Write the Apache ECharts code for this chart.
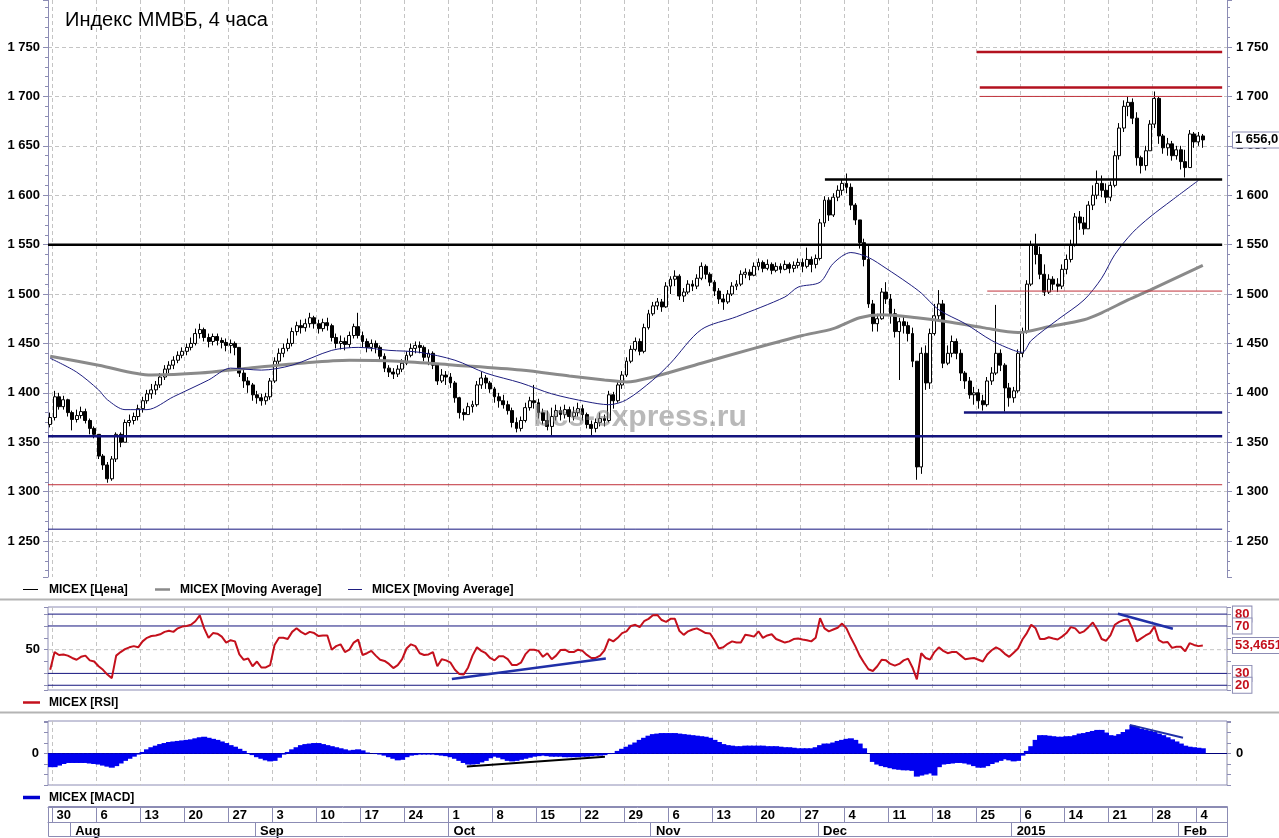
<!DOCTYPE html>
<html><head><meta charset="utf-8">
<script src="https://cdn.jsdelivr.net/npm/echarts@6/dist/echarts.min.js"></script>
<style>html,body{margin:0;padding:0;background:#fff}#c{width:1279px;height:838px}</style>
</head><body><div id="c"></div><script>
// ---------- DATA ----------
const firstOpen = 1368;
const closes = [
1375,1396,1386,1393,1380,1373,1377,1381,1372,1364,
1358,1336,1327,1313,1333,1358,1350,1370,1372,1376,
1384,1392,1399,1403,1408,1416,1424,1428,1433,1438,
1442,1446,1450,1460,1464,1456,1452,1457,1453,1451,
1448,1450,1446,1420,1412,1408,1398,1395,1392,1396,
1412,1432,1440,1445,1450,1462,1468,1466,1470,1476,
1470,1465,1471,1468,1456,1450,1452,1449,1458,1467,
1458,1452,1446,1450,1446,1437,1425,1421,1419,1424,
1430,1438,1445,1448,1446,1436,1440,1428,1412,1418,
1416,1410,1395,1380,1378,1386,1388,1408,1415,1410,
1404,1396,1392,1388,1382,1370,1364,1372,1385,1392,
1390,1380,1372,1366,1376,1382,1378,1383,1376,1380,
1384,1378,1368,1364,1370,1374,1372,1398,1392,1408,
1418,1432,1444,1452,1442,1466,1480,1488,1492,1487,
1508,1515,1518,1498,1502,1510,1508,1516,1528,1520,
1512,1503,1495,1492,1500,1508,1510,1520,1522,1519,
1528,1532,1526,1530,1524,1528,1525,1530,1526,1529,
1532,1528,1535,1530,1536,1572,1595,1580,1598,1605,
1612,1608,1590,1575,1552,1535,1490,1470,1475,1502,
1495,1480,1462,1472,1468,1460,1432,1325,1440,1410,
1460,1478,1490,1430,1440,1452,1440,1420,1412,1398,
1400,1392,1388,1412,1420,1440,1428,1405,1395,1402,
1440,1462,1510,1550,1540,1520,1502,1515,1510,1508,
1525,1535,1550,1578,1572,1566,1590,1600,1612,1605,
1598,1610,1640,1668,1690,1694,1678,1638,1630,1645,
1672,1698,1660,1648,1652,1640,1646,1634,1628,1662,
1654,1660,1656];
const highs = [
1380,1402,1400,1397,1394,1382,1383,1386,1384,1374,
1366,1358,1338,1330,1336,1360,1360,1373,1378,1380,
1388,1396,1403,1409,1412,1420,1428,1432,1437,1442,
1446,1450,1456,1465,1470,1466,1460,1460,1460,1456,
1455,1454,1452,1446,1425,1416,1410,1402,1399,1400,
1415,1436,1445,1450,1455,1466,1472,1474,1475,1481,
1478,1474,1475,1476,1470,1460,1458,1456,1462,1470,
1481,1462,1455,1454,1453,1448,1440,1428,1425,1428,
1434,1442,1450,1452,1452,1448,1444,1442,1430,1424,
1422,1420,1412,1396,1384,1390,1392,1412,1421,1418,
1412,1406,1400,1398,1392,1385,1375,1376,1390,1396,
1408,1394,1384,1382,1385,1388,1386,1388,1386,1386,
1390,1388,1380,1372,1374,1380,1378,1402,1401,1412,
1422,1436,1448,1456,1455,1470,1484,1492,1496,1495,
1512,1518,1524,1520,1506,1514,1514,1520,1532,1530,
1522,1514,1506,1500,1504,1512,1514,1524,1526,1525,
1532,1536,1534,1535,1532,1532,1531,1534,1532,1533,
1536,1536,1547,1538,1540,1576,1599,1598,1602,1610,
1616,1622,1612,1592,1575,1556,1550,1494,1480,1506,
1512,1500,1485,1476,1478,1472,1466,1432,1446,1448,
1465,1490,1504,1494,1448,1458,1455,1444,1422,1416,
1406,1404,1398,1416,1426,1489,1444,1430,1410,1406,
1444,1466,1514,1554,1561,1548,1530,1520,1518,1516,
1530,1540,1555,1582,1584,1578,1594,1610,1625,1620,
1612,1614,1645,1673,1696,1700,1698,1684,1640,1650,
1676,1705,1700,1662,1658,1655,1650,1650,1646,1666,
1664,1664,1662];
const lows = [
1365,1372,1383,1383,1376,1362,1370,1374,1369,1358,
1354,1333,1322,1309,1311,1330,1345,1350,1366,1368,
1372,1380,1389,1394,1398,1405,1413,1420,1424,1430,
1435,1438,1443,1448,1455,1452,1446,1448,1448,1445,
1442,1440,1438,1416,1405,1400,1392,1389,1387,1388,
1393,1410,1428,1436,1442,1447,1458,1460,1462,1466,
1465,1460,1462,1463,1452,1445,1444,1443,1446,1455,
1455,1446,1441,1442,1440,1432,1421,1416,1414,1416,
1421,1428,1436,1440,1440,1432,1428,1424,1408,1410,
1408,1405,1390,1374,1372,1378,1380,1386,1404,1404,
1400,1390,1385,1384,1378,1365,1360,1361,1370,1382,
1384,1374,1368,1362,1357,1372,1372,1374,1370,1372,
1376,1372,1364,1357,1360,1366,1366,1370,1384,1390,
1404,1416,1430,1442,1438,1440,1464,1478,1484,1482,
1486,1500,1508,1494,1492,1500,1503,1505,1514,1515,
1508,1498,1490,1484,1490,1498,1504,1508,1516,1514,
1518,1524,1522,1524,1520,1522,1521,1524,1521,1522,
1526,1522,1526,1522,1526,1534,1568,1574,1578,1594,
1600,1602,1585,1570,1546,1528,1486,1462,1462,1474,
1490,1470,1456,1413,1460,1452,1426,1312,1318,1403,
1404,1458,1474,1425,1428,1436,1434,1412,1404,1394,
1388,1384,1382,1386,1408,1418,1422,1381,1386,1390,
1400,1436,1460,1508,1530,1515,1498,1500,1504,1502,
1505,1520,1532,1548,1565,1560,1566,1585,1596,1598,
1592,1594,1608,1636,1664,1680,1672,1630,1622,1625,
1645,1668,1652,1642,1640,1635,1636,1626,1618,1628,
1648,1650,1648];
const maSlowBars   = [0,11,23,34,45,57,68,79,92,107,118,126,131,137,148,160,171,178,184,189,197,204,212,220,227,235,239,245,250,262];
const maSlowValues = [1437,1428,1418,1420,1425,1430,1433,1432,1428,1423,1417,1413,1411,1416,1430,1445,1458,1465,1476,1479,1476,1472,1466,1461,1467,1474,1481,1494,1504,1529];
const maFastBars   = [0,6,11,13,17,22,28,36,41,48,55,64,70,77,84,92,99,107,114,122,127,131,137,141,148,156,167,170,175,178,182,186,190,195,198,202,208,214,219,221,223,229,235,239,242,246,250,255,261];
const maFastValues = [1435,1421,1403,1393,1383,1383,1396,1413,1425,1423,1428,1443,1446,1443,1441,1433,1420,1410,1399,1391,1388,1393,1413,1430,1464,1477,1497,1507,1512,1531,1542,1537,1526,1511,1501,1484,1470,1453,1443,1441,1453,1474,1494,1516,1540,1562,1578,1595,1615];
const levelValues    = [1745,1709,1700,1616,1550,1503,1380,1356,1307,1262];
const levelStartBars = [210.6,211.3,211.3,176.1,-0.5,213,207.7,-0.5,-0.5,-0.5];
const levelEndBar = 266.4;
const rsiValues = [
33,48,45.5,46,45,43,41.5,44,45,41,
40,36,33,29,26,45,48,50.5,52,53,
52,57,60,61.5,62,63,65,66,65,68,
69.5,70,71,74,79,68,60,64,63.5,61,
56,58,57,46,41.5,42.5,36,40,35,35,
37,54,60,60,59,65,68,65,63,65,
64,61.5,62,62,50,53,54.5,48,50,56,
58.5,45.5,47,49,45,41.5,40.5,38,34.5,37,
42,51,54.5,53,47,45.5,46,48,36,42,
41,39,33,29.5,29,35,45,52,49,47,
43,41,44.5,44.5,42,37,37,39,46,50,
50,49,44,47,42,45,49.7,50,48,48,
50,49,45.6,43,43,45,49.5,59,57,60,
64,65.5,70,71,69,74,76,79,79.3,75,
73.5,76,76,66,62.5,65.5,67,68,66,64,
63.6,58,51,52,55,57,56,56,62.6,62,
61,65.5,60,62,63,59,57.5,56,57,59,
59.5,58.6,58,57,60,76.5,68,65.5,67,68.5,
72,68,60,53,45,39,33.5,32,36,41.5,
41,38,36.5,38,41,42.5,35,25,47,43,
41.7,48,52,49,47,48,48,45,42,42.5,
43,41.5,40,46,49.5,52,50,46.5,44,47.5,
51,58.6,64,71,68,59,59,60.5,59.5,58.6,
61,64,69,68,64,65.5,69,73,67,59,
57.5,62,71,73.5,75,75.5,68,57,59.5,62,
64,69.5,58,56,56.5,51.5,52.5,52.5,48.6,55.5,
54,53,53.5];
const rsiLast = 53.4651;
const rsiLevels = [80,70,30,20];
const rsiTrendLines = [[[91.3,25.3],[126.3,42.5]], [[242.7,80.3],[255.2,67.6]]];
const macdValues = [
-13,-13,-11.5,-10,-9,-9,-9,-9,-9,-9.5,
-10,-10.5,-11.5,-12.5,-13.5,-12,-9.5,-7,-5,-3,
-1,1.5,4,6,7.5,9,10,11,11.5,12,
12.5,13,13.5,14.5,15.5,16,15,14,13,11.5,
10,8,6.5,4.5,2.5,0.5,-1.5,-3.5,-5,-6.5,
-7.5,-7,-4,-1,1.5,4,6,8,9,9.5,
10,10,9,8,7,6,5,4,3,3.5,
4,3,1,0,-0.5,-1,-2,-3.5,-5,-6.5,
-6,-3.5,-2,-1.5,-1,-1,-1,-1,-1.5,-2,
-2.5,-3.5,-5,-7,-9,-10.5,-10.5,-10,-8.5,-7,
-4.5,-3,-4,-5.5,-7,-7.5,-7,-6,-5,-4,
-3,-2.5,-2,-2.5,-3,-3,-3,-3.5,-3.5,-3.5,
-3.5,-3,-3,-2.5,-2,-2,-1.5,-0.5,0.5,2.5,
4.5,6.5,8.5,10.5,13,15,17,18.5,19,19.5,
19.5,19.5,19.5,19,18.5,18,17.5,17,16.5,16,
15,13,11,9,8,7.5,7,7,7.5,7.5,
7.5,7.5,7.5,7,7,7,6.5,6,6,5.5,
5,5,5,5,6,8,9.5,9.5,10.5,12,
13,14,14.5,13,9.5,5,0,-8,-10.5,-12,
-13,-14,-15,-15.5,-16,-16,-16.5,-22,-21,-20,
-19,-21,-13,-10.5,-10,-9.5,-9,-9,-9.5,-10.5,
-12,-13.5,-13.5,-12,-10,-8.5,-7,-5.5,-6.5,-7.5,
-7,-2,2.5,7,13,17.5,17.5,17,16.5,16,
16,16.5,16.5,17.5,19,19.5,20.5,21.5,22.5,22.5,
20,17.5,17,18.5,20.5,23,27,25.5,23.5,22.5,
21.5,20.5,19,17.5,15.5,13.5,11.5,9.5,7.5,6.5,
6,5.5,5];
const macdTrendLines = [[[94.7,-12.4],[126.1,-3.1]], [[245.4,27.3],[257.5,15]]];
const weekLabels = ['30','6','13','20','27','3','10','17','24','1','8','15','22','29','6','13','20','27','4','11','18','25','6','14','21','28','4'];
const monthLabels = ['Aug','Sep','Oct','Nov','Dec','2015','Feb'];
const monthStartBars = [5,47,91,137,175,219,257];

// ---------- LAYOUT / STYLE ----------
const N = 268, BARS_PER_WEEK = 10, FIRST_WEEK_BAR = 1;
const font = '"Liberation Sans", Arial, Helvetica, sans-serif';
const axisCol = '#8c8cb4', gridCol = '#c4c4c4', navy = '#14147e';
const cats = Array.from({length: N}, (_, i) => String(i));
const weekByBar = {}; weekLabels.forEach((l, k) => weekByBar[FIRST_WEEK_BAR + BARS_PER_WEEK * k] = l);
const monthByBar = {}; monthLabels.forEach((l, k) => monthByBar[monthStartBars[k]] = l);
const isWeek = (i) => weekByBar[i] !== undefined;
const isMonth = (i) => monthByBar[i] !== undefined;
const fmtK = (v) => { const s = String(Math.round(v)); return s.length > 3 ? s.slice(0, s.length - 3) + ' ' + s.slice(-3) : s; };
const levelColors = ['#b3121f','#b3121f','#c0303a','#000','#000','#c0303a',navy,navy,'#c0303a',navy];
const levelWidths = [2.5,2.5,1,2.5,2.5,1,2.5,2.5,1,1];

const vSplit = {show: true, interval: (i) => isWeek(i), lineStyle: {color: gridCol, type: [4, 3], width: 1}};
const catAxis = (g, extra) => Object.assign({type: 'category', gridIndex: g, data: cats, axisLine: {show: false}, axisTick: {show: false}, axisLabel: {show: false}, splitLine: vSplit}, extra || {});
const valX = (g) => ({type: 'value', gridIndex: g, min: 0, max: N, show: false});
const lbl = {color: '#000', fontFamily: font, fontWeight: 'bold', fontSize: 13};

const boxLabel = (text, color) => ({show: true, formatter: text, color, fontFamily: font, fontWeight: 'bold', fontSize: 13,
  backgroundColor: '#fff', borderColor: axisCol, borderWidth: 1, padding: [2, 2, 0, 2], distance: 6});

const line = (xi, yi, data, color, width, z, extra) => Object.assign({type: 'line', xAxisIndex: xi, yAxisIndex: yi, data,
  showSymbol: false, symbol: 'none', silent: true, animation: false, lineStyle: {color, width}, z}, extra || {});

const S = [];
S.push({type: 'candlestick', xAxisIndex: 0, yAxisIndex: 0, barWidth: 3.4, z: 2,
  data: closes.map((c, i) => [i ? closes[i - 1] : firstOpen, c, lows[i], highs[i]]),
  itemStyle: {color: '#ffffff', color0: '#000000', borderColor: '#000000', borderColor0: '#000000', borderWidth: 1}});
S.push(line(1, 0, maSlowBars.map((b, k) => [b + 0.5, maSlowValues[k]]), '#8a8a8a', 3, 3, {smooth: 0.3}));
S.push(line(1, 0, maFastBars.map((b, k) => [b + 0.5, maFastValues[k]]), '#1e1e80', 1, 3, {smooth: 0.3}));
levelValues.forEach((v, k) => S.push(line(1, 0, [[levelStartBars[k] + 0.5, v], [levelEndBar + 0.5, v]], levelColors[k], levelWidths[k], 4)));
const lastPrice = closes[closes.length - 1];
S.push(line(1, 0, [[closes.length - 0.5, lastPrice], [N - 0.01, lastPrice]], 'rgba(0,0,0,0)', 1, 6,
  {endLabel: boxLabel(fmtK(lastPrice) + ',0', '#000')}));

// RSI
S.push(line(3, 2, [[0, 50], [N, 50]], gridCol, 1, 1, {lineStyle: {color: gridCol, width: 1, type: [4, 3]}}));
rsiLevels.forEach(v => S.push(line(3, 2, [[0, v], [N - 0.01, v]], navy, 1, 2, {endLabel: boxLabel(String(v), '#c4101c')})));
S.push(line(3, 2, rsiValues.map((v, i) => [i + 0.5, v]), '#c4101c', 2, 3));
rsiTrendLines.forEach(t => S.push(line(3, 2, t.map(p => [p[0] + 0.5, p[1]]), '#2030a8', 2.5, 4)));
S.push(line(3, 2, [[rsiValues.length - 0.5, rsiLast], [N - 0.01, rsiLast]], 'rgba(0,0,0,0)', 1, 6,
  {endLabel: boxLabel(String(rsiLast).replace('.', ','), '#c4101c')}));

// MACD
S.push({type: 'bar', xAxisIndex: 4, yAxisIndex: 4, data: macdValues, barWidth: 6, itemStyle: {color: '#0000f0'}, z: 2, silent: true});
S.push(line(5, 4, macdTrendLines[0].map(p => [p[0] + 0.5, p[1]]), '#000', 2, 4));
S.push(line(5, 4, macdTrendLines[1].map(p => [p[0] + 0.5, p[1]]), '#2030a8', 2, 4));

const yTick = {show: true, length: 5, lineStyle: {color: axisCol}};
const yMinor = {show: true, splitNumber: 5, length: 3, lineStyle: {color: axisCol}};
const option = {
  animation: false,
  backgroundColor: '#ffffff',
  grid: [
    {left: 48, right: 52, top: 0, height: 577, show: false, outerBoundsMode: 'none'},
    {left: 48, right: 52, top: 607, height: 83, show: true, borderColor: axisCol, borderWidth: 1, outerBoundsMode: 'none'},
    {left: 48, right: 52, top: 721, height: 64, show: true, borderColor: axisCol, borderWidth: 1, outerBoundsMode: 'none'},
    {left: 48, right: 52, top: 806, height: 1, show: false, outerBoundsMode: 'none'}
  ],
  xAxis: [
    catAxis(0), valX(0),
    catAxis(1), valX(1),
    catAxis(2, {axisLine: {show: true, onZero: true, lineStyle: {color: '#00007a', width: 1}}}), valX(2),
    {type: 'category', gridIndex: 3, data: cats, position: 'bottom',
      axisLine: {show: true, lineStyle: {color: axisCol}},
      axisTick: {show: true, interval: (i) => isWeek(i), length: 15, lineStyle: {color: axisCol}},
      axisLabel: Object.assign({interval: (i) => isWeek(i), formatter: (v, i) => weekByBar[i] || '', align: 'left', margin: 2, padding: [0, 0, 0, 2]}, lbl),
      splitLine: {show: false}},
    {type: 'category', gridIndex: 3, data: cats, position: 'bottom', offset: 15,
      axisLine: {show: true, lineStyle: {color: axisCol}},
      axisTick: {show: true, interval: (i) => isMonth(i), length: 15, lineStyle: {color: axisCol}},
      axisLabel: Object.assign({interval: (i) => isMonth(i), formatter: (v, i) => monthByBar[i] || '', align: 'left', margin: 3, padding: [0, 0, 0, 3]}, lbl),
      splitLine: {show: false}}
  ],
  yAxis: [
    {type: 'value', gridIndex: 0, position: 'left', min: 1213.6, max: 1797.6, splitNumber: 12, scale: true,
      axisLine: {show: true, lineStyle: {color: axisCol}}, axisTick: yTick, minorTick: yMinor,
      axisLabel: Object.assign({formatter: fmtK, margin: 8, showMinLabel: false, showMaxLabel: false}, lbl),
      splitLine: {show: true, showMinLine: false, showMaxLine: false, lineStyle: {color: gridCol, type: [4, 3]}}},
    {type: 'value', gridIndex: 0, position: 'right', min: 1213.6, max: 1797.6, splitNumber: 12, scale: true,
      axisLine: {show: true, lineStyle: {color: axisCol}}, axisTick: yTick, minorTick: yMinor,
      axisLabel: Object.assign({formatter: fmtK, margin: 9, showMinLabel: false, showMaxLabel: false}, lbl),
      splitLine: {show: false}},
    {type: 'value', gridIndex: 1, position: 'left', min: 16, max: 86, splitNumber: 7,
      axisLine: {show: false}, axisTick: {show: true, length: 4, lineStyle: {color: axisCol}},
      axisLabel: Object.assign({formatter: (v) => v === 50 ? '50' : '', margin: 8}, lbl), splitLine: {show: false}},
    {type: 'value', gridIndex: 1, position: 'right', min: 16, max: 86, splitNumber: 7,
      axisLine: {show: false}, axisTick: {show: true, length: 4, lineStyle: {color: axisCol}},
      axisLabel: {show: false}, splitLine: {show: false}},
    {type: 'value', gridIndex: 2, position: 'left', min: -30, max: 31, splitNumber: 6,
      axisLine: {show: false}, axisTick: {show: true, length: 4, lineStyle: {color: axisCol}},
      axisLabel: Object.assign({formatter: (v) => v === 0 ? '0' : '', margin: 9}, lbl), splitLine: {show: false}},
    {type: 'value', gridIndex: 2, position: 'right', min: -30, max: 31, splitNumber: 6,
      axisLine: {show: false}, axisTick: {show: true, length: 4, lineStyle: {color: axisCol}},
      axisLabel: Object.assign({formatter: (v) => v === 0 ? '0' : '', margin: 9}, lbl), splitLine: {show: false}},
    {type: 'value', gridIndex: 3, show: false}
  ],
  series: S,
  graphic: [
    {type: 'text', x: 65, y: 20, z: 10, style: {text: 'Индекс ММВБ, 4 часа', font: '20px ' + font, fill: '#000', verticalAlign: 'middle'}},
    {type: 'text', x: 640, y: 418, z: 10, style: {text: 'bcs-express.ru', font: 'bold 30px ' + font, fill: 'rgba(128,128,128,0.55)', align: 'center', verticalAlign: 'middle'}},
    {type: 'line', z: 10, shape: {x1: 23, y1: 589.5, x2: 38, y2: 589.5}, style: {stroke: '#000', lineWidth: 1}},
    {type: 'text', x: 49, y: 590, z: 10, style: {text: 'MICEX [Цена]', font: 'bold 12px ' + font, fill: '#000', verticalAlign: 'middle'}},
    {type: 'line', z: 10, shape: {x1: 155, y1: 589.5, x2: 170, y2: 589.5}, style: {stroke: '#8a8a8a', lineWidth: 2.5}},
    {type: 'text', x: 180, y: 590, z: 10, style: {text: 'MICEX [Moving Average]', font: 'bold 12px ' + font, fill: '#000', verticalAlign: 'middle'}},
    {type: 'line', z: 10, shape: {x1: 348, y1: 589.5, x2: 362, y2: 589.5}, style: {stroke: '#1e1e80', lineWidth: 1}},
    {type: 'text', x: 372, y: 590, z: 10, style: {text: 'MICEX [Moving Average]', font: 'bold 12px ' + font, fill: '#000', verticalAlign: 'middle'}},
    {type: 'line', z: 10, shape: {x1: 0, y1: 599.5, x2: 1279, y2: 599.5}, style: {stroke: '#b4b4b4', lineWidth: 2}},
    {type: 'line', z: 10, shape: {x1: 23, y1: 702.5, x2: 40, y2: 702.5}, style: {stroke: '#c4101c', lineWidth: 2.5}},
    {type: 'text', x: 49, y: 703, z: 10, style: {text: 'MICEX [RSI]', font: 'bold 12px ' + font, fill: '#000', verticalAlign: 'middle'}},
    {type: 'line', z: 10, shape: {x1: 0, y1: 712.5, x2: 1279, y2: 712.5}, style: {stroke: '#b4b4b4', lineWidth: 2}},
    {type: 'line', z: 10, shape: {x1: 23, y1: 797.5, x2: 40, y2: 797.5}, style: {stroke: '#0000d0', lineWidth: 3.5}},
    {type: 'text', x: 49, y: 798, z: 10, style: {text: 'MICEX [MACD]', font: 'bold 12px ' + font, fill: '#000', verticalAlign: 'middle'}},
    {type: 'rect', z: 10, shape: {x: 48.5, y: 806.5, width: 1179, height: 30}, style: {fill: null, stroke: axisCol, lineWidth: 1}}
  ]
};
const chart = echarts.init(document.getElementById('c'), null, {renderer: 'canvas'});
chart.setOption(option);
</script></body></html>
